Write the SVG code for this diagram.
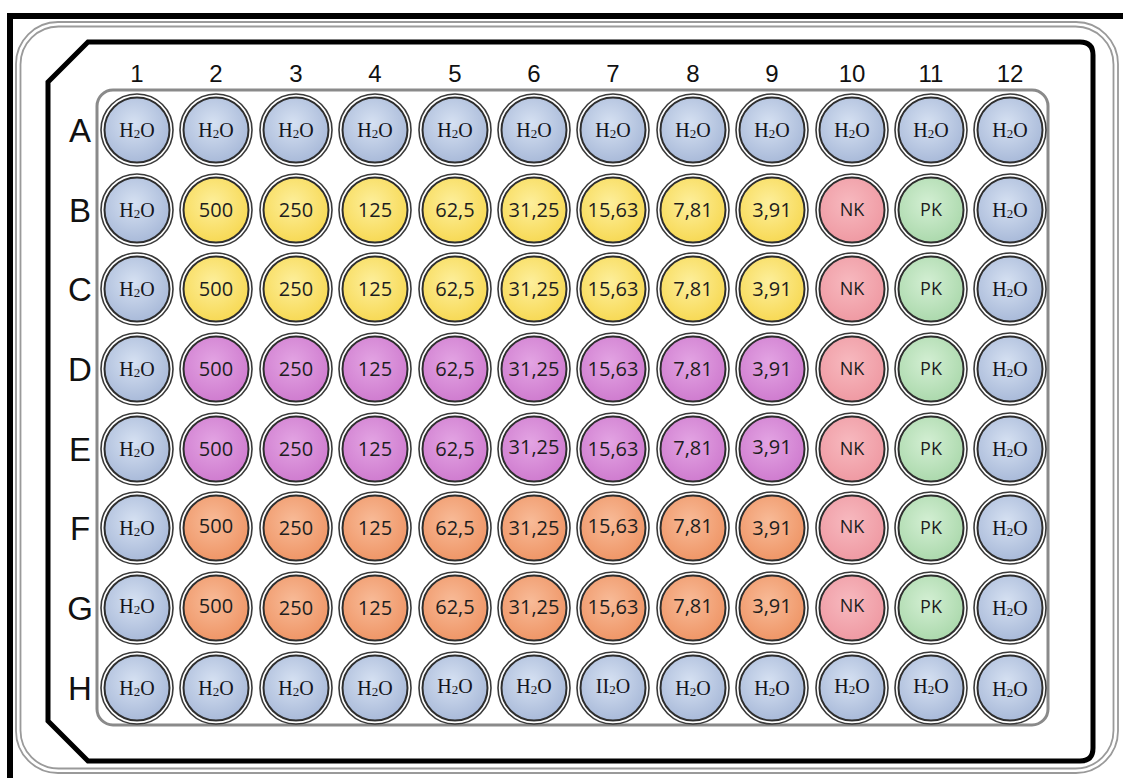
<svg xmlns="http://www.w3.org/2000/svg" width="1123" height="778" viewBox="0 0 1123 778">
<defs>
<radialGradient id="gW" cx="0.45" cy="0.4" r="0.6"><stop offset="0" stop-color="#d6e1f2"/><stop offset="1" stop-color="#a9bad9"/></radialGradient>
<radialGradient id="gY" cx="0.45" cy="0.4" r="0.6"><stop offset="0" stop-color="#fdef9c"/><stop offset="1" stop-color="#f7d955"/></radialGradient>
<radialGradient id="gM" cx="0.45" cy="0.4" r="0.6"><stop offset="0" stop-color="#e3a4e3"/><stop offset="1" stop-color="#cf7ccf"/></radialGradient>
<radialGradient id="gO" cx="0.45" cy="0.4" r="0.6"><stop offset="0" stop-color="#f8bb98"/><stop offset="1" stop-color="#ef9667"/></radialGradient>
<radialGradient id="gN" cx="0.45" cy="0.4" r="0.6"><stop offset="0" stop-color="#f7b9bf"/><stop offset="1" stop-color="#ef9aa3"/></radialGradient>
<radialGradient id="gP" cx="0.45" cy="0.4" r="0.6"><stop offset="0" stop-color="#d3efd3"/><stop offset="1" stop-color="#acd9ad"/></radialGradient>
<style>
.rim{fill:#fff;stroke:#3a3a3a;stroke-width:1.6}
.in{stroke:#2e2e2e;stroke-width:2}
.w{fill:url(#gW)}.y{fill:url(#gY)}.m{fill:url(#gM)}.o{fill:url(#gO)}.nk{fill:url(#gN)}.pk{fill:url(#gP)}
.h{font-family:"Liberation Serif",serif;font-size:20px;fill:#141420;text-anchor:middle}
.s{font-size:13px}
.n{font-family:"Open Sans",sans-serif;font-size:20px;fill:#1e1e1e;text-anchor:middle}
.k{font-family:"Open Sans",sans-serif;font-size:18px;fill:#1e1e1e;text-anchor:middle}
.col{font-family:"Liberation Sans",Arial,sans-serif;font-size:24px;fill:#111;text-anchor:middle}
.row{font-family:"Liberation Sans",Arial,sans-serif;font-size:33px;fill:#111;text-anchor:middle}
</style>
</defs>
<rect width="1123" height="778" fill="#fff"/>
<g id="plate">
<path d="M10,778 V16 H1123" fill="none" stroke="#000" stroke-width="6"/>
<rect x="16" y="22" width="1102" height="751" rx="42" fill="none" stroke="#9a9a9a" stroke-width="1.8"/>
<rect x="20.5" y="26.5" width="1093" height="742" rx="38" fill="none" stroke="#9a9a9a" stroke-width="1.8"/>
<path d="M48,82 L88,42 H1080 Q1093,42 1093,55 V748 Q1093,761 1080,761 H88 L48,721 Z" fill="none" stroke="#000" stroke-width="5"/>
<rect x="97" y="90" width="951" height="635" rx="16" fill="none" stroke="#8a8a8a" stroke-width="3"/>
</g>
<g id="labels">
<text class="col" x="137" y="82">1</text><text class="col" x="216" y="82">2</text><text class="col" x="296" y="82">3</text><text class="col" x="375" y="82">4</text><text class="col" x="455" y="82">5</text><text class="col" x="534" y="82">6</text><text class="col" x="613" y="82">7</text><text class="col" x="693" y="82">8</text><text class="col" x="772" y="82">9</text><text class="col" x="852" y="82">10</text><text class="col" x="931" y="82">11</text><text class="col" x="1010" y="82">12</text>
<text class="row" x="80" y="142">A</text><text class="row" x="80" y="222">B</text><text class="row" x="80" y="301">C</text><text class="row" x="80" y="381">D</text><text class="row" x="80" y="461">E</text><text class="row" x="80" y="540">F</text><text class="row" x="80" y="620">G</text><text class="row" x="80" y="700">H</text>
</g>
<g id="rowA">
<g id="A1"><circle class="rim" cx="137" cy="130" r="36"/><circle class="in w" cx="137" cy="130" r="32.5"/><text class="h" x="137" y="137">H<tspan class="s" dy="1">2</tspan><tspan dy="-1">O</tspan></text></g>
<g id="A2"><circle class="rim" cx="216" cy="130" r="36"/><circle class="in w" cx="216" cy="130" r="32.5"/><text class="h" x="216" y="137">H<tspan class="s" dy="1">2</tspan><tspan dy="-1">O</tspan></text></g>
<g id="A3"><circle class="rim" cx="296" cy="130" r="36"/><circle class="in w" cx="296" cy="130" r="32.5"/><text class="h" x="296" y="137">H<tspan class="s" dy="1">2</tspan><tspan dy="-1">O</tspan></text></g>
<g id="A4"><circle class="rim" cx="375" cy="130" r="36"/><circle class="in w" cx="375" cy="130" r="32.5"/><text class="h" x="375" y="137">H<tspan class="s" dy="1">2</tspan><tspan dy="-1">O</tspan></text></g>
<g id="A5"><circle class="rim" cx="455" cy="130" r="36"/><circle class="in w" cx="455" cy="130" r="32.5"/><text class="h" x="455" y="137">H<tspan class="s" dy="1">2</tspan><tspan dy="-1">O</tspan></text></g>
<g id="A6"><circle class="rim" cx="534" cy="130" r="36"/><circle class="in w" cx="534" cy="130" r="32.5"/><text class="h" x="534" y="137">H<tspan class="s" dy="1">2</tspan><tspan dy="-1">O</tspan></text></g>
<g id="A7"><circle class="rim" cx="613" cy="130" r="36"/><circle class="in w" cx="613" cy="130" r="32.5"/><text class="h" x="613" y="137">H<tspan class="s" dy="1">2</tspan><tspan dy="-1">O</tspan></text></g>
<g id="A8"><circle class="rim" cx="693" cy="130" r="36"/><circle class="in w" cx="693" cy="130" r="32.5"/><text class="h" x="693" y="137">H<tspan class="s" dy="1">2</tspan><tspan dy="-1">O</tspan></text></g>
<g id="A9"><circle class="rim" cx="772" cy="130" r="36"/><circle class="in w" cx="772" cy="130" r="32.5"/><text class="h" x="772" y="137">H<tspan class="s" dy="1">2</tspan><tspan dy="-1">O</tspan></text></g>
<g id="A10"><circle class="rim" cx="852" cy="130" r="36"/><circle class="in w" cx="852" cy="130" r="32.5"/><text class="h" x="852" y="137">H<tspan class="s" dy="1">2</tspan><tspan dy="-1">O</tspan></text></g>
<g id="A11"><circle class="rim" cx="931" cy="130" r="36"/><circle class="in w" cx="931" cy="130" r="32.5"/><text class="h" x="931" y="137">H<tspan class="s" dy="1">2</tspan><tspan dy="-1">O</tspan></text></g>
<g id="A12"><circle class="rim" cx="1010" cy="130" r="36"/><circle class="in w" cx="1010" cy="130" r="32.5"/><text class="h" x="1010" y="137">H<tspan class="s" dy="1">2</tspan><tspan dy="-1">O</tspan></text></g>
</g>
<g id="rowB">
<g id="B1"><circle class="rim" cx="137" cy="210" r="36"/><circle class="in w" cx="137" cy="210" r="32.5"/><text class="h" x="137" y="217">H<tspan class="s" dy="1">2</tspan><tspan dy="-1">O</tspan></text></g>
<g id="B2"><circle class="rim" cx="216" cy="210" r="36"/><circle class="in y" cx="216" cy="210" r="32.5"/><text class="n" x="216" y="217">500</text></g>
<g id="B3"><circle class="rim" cx="296" cy="210" r="36"/><circle class="in y" cx="296" cy="210" r="32.5"/><text class="n" x="296" y="217">250</text></g>
<g id="B4"><circle class="rim" cx="375" cy="210" r="36"/><circle class="in y" cx="375" cy="210" r="32.5"/><text class="n" x="375" y="217">125</text></g>
<g id="B5"><circle class="rim" cx="455" cy="210" r="36"/><circle class="in y" cx="455" cy="210" r="32.5"/><text class="n" x="455" y="217">62,5</text></g>
<g id="B6"><circle class="rim" cx="534" cy="210" r="36"/><circle class="in y" cx="534" cy="210" r="32.5"/><text class="n" x="534" y="217">31,25</text></g>
<g id="B7"><circle class="rim" cx="613" cy="210" r="36"/><circle class="in y" cx="613" cy="210" r="32.5"/><text class="n" x="613" y="217">15,63</text></g>
<g id="B8"><circle class="rim" cx="693" cy="210" r="36"/><circle class="in y" cx="693" cy="210" r="32.5"/><text class="n" x="693" y="217">7,81</text></g>
<g id="B9"><circle class="rim" cx="772" cy="210" r="36"/><circle class="in y" cx="772" cy="210" r="32.5"/><text class="n" x="772" y="217">3,91</text></g>
<g id="B10"><circle class="rim" cx="852" cy="210" r="36"/><circle class="in nk" cx="852" cy="210" r="32.5"/><text class="k" x="852" y="216">NK</text></g>
<g id="B11"><circle class="rim" cx="931" cy="210" r="36"/><circle class="in pk" cx="931" cy="210" r="32.5"/><text class="k" x="931" y="216">PK</text></g>
<g id="B12"><circle class="rim" cx="1010" cy="210" r="36"/><circle class="in w" cx="1010" cy="210" r="32.5"/><text class="h" x="1010" y="217">H<tspan class="s" dy="1">2</tspan><tspan dy="-1">O</tspan></text></g>
</g>
<g id="rowC">
<g id="C1"><circle class="rim" cx="137" cy="289" r="36"/><circle class="in w" cx="137" cy="289" r="32.5"/><text class="h" x="137" y="296">H<tspan class="s" dy="1">2</tspan><tspan dy="-1">O</tspan></text></g>
<g id="C2"><circle class="rim" cx="216" cy="289" r="36"/><circle class="in y" cx="216" cy="289" r="32.5"/><text class="n" x="216" y="296">500</text></g>
<g id="C3"><circle class="rim" cx="296" cy="289" r="36"/><circle class="in y" cx="296" cy="289" r="32.5"/><text class="n" x="296" y="296">250</text></g>
<g id="C4"><circle class="rim" cx="375" cy="289" r="36"/><circle class="in y" cx="375" cy="289" r="32.5"/><text class="n" x="375" y="296">125</text></g>
<g id="C5"><circle class="rim" cx="455" cy="289" r="36"/><circle class="in y" cx="455" cy="289" r="32.5"/><text class="n" x="455" y="296">62,5</text></g>
<g id="C6"><circle class="rim" cx="534" cy="289" r="36"/><circle class="in y" cx="534" cy="289" r="32.5"/><text class="n" x="534" y="296">31,25</text></g>
<g id="C7"><circle class="rim" cx="613" cy="289" r="36"/><circle class="in y" cx="613" cy="289" r="32.5"/><text class="n" x="613" y="296">15,63</text></g>
<g id="C8"><circle class="rim" cx="693" cy="289" r="36"/><circle class="in y" cx="693" cy="289" r="32.5"/><text class="n" x="693" y="296">7,81</text></g>
<g id="C9"><circle class="rim" cx="772" cy="289" r="36"/><circle class="in y" cx="772" cy="289" r="32.5"/><text class="n" x="772" y="296">3,91</text></g>
<g id="C10"><circle class="rim" cx="852" cy="289" r="36"/><circle class="in nk" cx="852" cy="289" r="32.5"/><text class="k" x="852" y="295">NK</text></g>
<g id="C11"><circle class="rim" cx="931" cy="289" r="36"/><circle class="in pk" cx="931" cy="289" r="32.5"/><text class="k" x="931" y="295">PK</text></g>
<g id="C12"><circle class="rim" cx="1010" cy="289" r="36"/><circle class="in w" cx="1010" cy="289" r="32.5"/><text class="h" x="1010" y="296">H<tspan class="s" dy="1">2</tspan><tspan dy="-1">O</tspan></text></g>
</g>
<g id="rowD">
<g id="D1"><circle class="rim" cx="137" cy="369" r="36"/><circle class="in w" cx="137" cy="369" r="32.5"/><text class="h" x="137" y="376">H<tspan class="s" dy="1">2</tspan><tspan dy="-1">O</tspan></text></g>
<g id="D2"><circle class="rim" cx="216" cy="369" r="36"/><circle class="in m" cx="216" cy="369" r="32.5"/><text class="n" x="216" y="376">500</text></g>
<g id="D3"><circle class="rim" cx="296" cy="369" r="36"/><circle class="in m" cx="296" cy="369" r="32.5"/><text class="n" x="296" y="376">250</text></g>
<g id="D4"><circle class="rim" cx="375" cy="369" r="36"/><circle class="in m" cx="375" cy="369" r="32.5"/><text class="n" x="375" y="376">125</text></g>
<g id="D5"><circle class="rim" cx="455" cy="369" r="36"/><circle class="in m" cx="455" cy="369" r="32.5"/><text class="n" x="455" y="376">62,5</text></g>
<g id="D6"><circle class="rim" cx="534" cy="369" r="36"/><circle class="in m" cx="534" cy="369" r="32.5"/><text class="n" x="534" y="376">31,25</text></g>
<g id="D7"><circle class="rim" cx="613" cy="369" r="36"/><circle class="in m" cx="613" cy="369" r="32.5"/><text class="n" x="613" y="376">15,63</text></g>
<g id="D8"><circle class="rim" cx="693" cy="369" r="36"/><circle class="in m" cx="693" cy="369" r="32.5"/><text class="n" x="693" y="376">7,81</text></g>
<g id="D9"><circle class="rim" cx="772" cy="369" r="36"/><circle class="in m" cx="772" cy="369" r="32.5"/><text class="n" x="772" y="376">3,91</text></g>
<g id="D10"><circle class="rim" cx="852" cy="369" r="36"/><circle class="in nk" cx="852" cy="369" r="32.5"/><text class="k" x="852" y="375">NK</text></g>
<g id="D11"><circle class="rim" cx="931" cy="369" r="36"/><circle class="in pk" cx="931" cy="369" r="32.5"/><text class="k" x="931" y="375">PK</text></g>
<g id="D12"><circle class="rim" cx="1010" cy="369" r="36"/><circle class="in w" cx="1010" cy="369" r="32.5"/><text class="h" x="1010" y="376">H<tspan class="s" dy="1">2</tspan><tspan dy="-1">O</tspan></text></g>
</g>
<g id="rowE">
<g id="E1"><circle class="rim" cx="137" cy="449" r="36"/><circle class="in w" cx="137" cy="449" r="32.5"/><text class="h" x="137" y="456">H<tspan class="s" dy="1">2</tspan><tspan dy="-1">O</tspan></text></g>
<g id="E2"><circle class="rim" cx="216" cy="449" r="36"/><circle class="in m" cx="216" cy="449" r="32.5"/><text class="n" x="216" y="456">500</text></g>
<g id="E3"><circle class="rim" cx="296" cy="449" r="36"/><circle class="in m" cx="296" cy="449" r="32.5"/><text class="n" x="296" y="456">250</text></g>
<g id="E4"><circle class="rim" cx="375" cy="449" r="36"/><circle class="in m" cx="375" cy="449" r="32.5"/><text class="n" x="375" y="456">125</text></g>
<g id="E5"><circle class="rim" cx="455" cy="449" r="36"/><circle class="in m" cx="455" cy="449" r="32.5"/><text class="n" x="455" y="456">62,5</text></g>
<g id="E6"><circle class="rim" cx="534" cy="449" r="36"/><circle class="in m" cx="534" cy="449" r="32.5"/><text class="n" x="534" y="454">31,25</text></g>
<g id="E7"><circle class="rim" cx="613" cy="449" r="36"/><circle class="in m" cx="613" cy="449" r="32.5"/><text class="n" x="613" y="456">15,63</text></g>
<g id="E8"><circle class="rim" cx="693" cy="449" r="36"/><circle class="in m" cx="693" cy="449" r="32.5"/><text class="n" x="693" y="455">7,81</text></g>
<g id="E9"><circle class="rim" cx="772" cy="449" r="36"/><circle class="in m" cx="772" cy="449" r="32.5"/><text class="n" x="772" y="454">3,91</text></g>
<g id="E10"><circle class="rim" cx="852" cy="449" r="36"/><circle class="in nk" cx="852" cy="449" r="32.5"/><text class="k" x="852" y="455">NK</text></g>
<g id="E11"><circle class="rim" cx="931" cy="449" r="36"/><circle class="in pk" cx="931" cy="449" r="32.5"/><text class="k" x="931" y="455">PK</text></g>
<g id="E12"><circle class="rim" cx="1010" cy="449" r="36"/><circle class="in w" cx="1010" cy="449" r="32.5"/><text class="h" x="1010" y="456">H<tspan class="s" dy="1">2</tspan><tspan dy="-1">O</tspan></text></g>
</g>
<g id="rowF">
<g id="F1"><circle class="rim" cx="137" cy="528" r="36"/><circle class="in w" cx="137" cy="528" r="32.5"/><text class="h" x="137" y="535">H<tspan class="s" dy="1">2</tspan><tspan dy="-1">O</tspan></text></g>
<g id="F2"><circle class="rim" cx="216" cy="528" r="36"/><circle class="in o" cx="216" cy="528" r="32.5"/><text class="n" x="216" y="533">500</text></g>
<g id="F3"><circle class="rim" cx="296" cy="528" r="36"/><circle class="in o" cx="296" cy="528" r="32.5"/><text class="n" x="296" y="535">250</text></g>
<g id="F4"><circle class="rim" cx="375" cy="528" r="36"/><circle class="in o" cx="375" cy="528" r="32.5"/><text class="n" x="375" y="535">125</text></g>
<g id="F5"><circle class="rim" cx="455" cy="528" r="36"/><circle class="in o" cx="455" cy="528" r="32.5"/><text class="n" x="455" y="535">62,5</text></g>
<g id="F6"><circle class="rim" cx="534" cy="528" r="36"/><circle class="in o" cx="534" cy="528" r="32.5"/><text class="n" x="534" y="535">31,25</text></g>
<g id="F7"><circle class="rim" cx="613" cy="528" r="36"/><circle class="in o" cx="613" cy="528" r="32.5"/><text class="n" x="613" y="533">15,63</text></g>
<g id="F8"><circle class="rim" cx="693" cy="528" r="36"/><circle class="in o" cx="693" cy="528" r="32.5"/><text class="n" x="693" y="533">7,81</text></g>
<g id="F9"><circle class="rim" cx="772" cy="528" r="36"/><circle class="in o" cx="772" cy="528" r="32.5"/><text class="n" x="772" y="535">3,91</text></g>
<g id="F10"><circle class="rim" cx="852" cy="528" r="36"/><circle class="in nk" cx="852" cy="528" r="32.5"/><text class="k" x="852" y="533">NK</text></g>
<g id="F11"><circle class="rim" cx="931" cy="528" r="36"/><circle class="in pk" cx="931" cy="528" r="32.5"/><text class="k" x="931" y="534">PK</text></g>
<g id="F12"><circle class="rim" cx="1010" cy="528" r="36"/><circle class="in w" cx="1010" cy="528" r="32.5"/><text class="h" x="1010" y="535">H<tspan class="s" dy="1">2</tspan><tspan dy="-1">O</tspan></text></g>
</g>
<g id="rowG">
<g id="G1"><circle class="rim" cx="137" cy="608" r="36"/><circle class="in w" cx="137" cy="608" r="32.5"/><text class="h" x="137" y="613">H<tspan class="s" dy="1">2</tspan><tspan dy="-1">O</tspan></text></g>
<g id="G2"><circle class="rim" cx="216" cy="608" r="36"/><circle class="in o" cx="216" cy="608" r="32.5"/><text class="n" x="216" y="613">500</text></g>
<g id="G3"><circle class="rim" cx="296" cy="608" r="36"/><circle class="in o" cx="296" cy="608" r="32.5"/><text class="n" x="296" y="615">250</text></g>
<g id="G4"><circle class="rim" cx="375" cy="608" r="36"/><circle class="in o" cx="375" cy="608" r="32.5"/><text class="n" x="375" y="615">125</text></g>
<g id="G5"><circle class="rim" cx="455" cy="608" r="36"/><circle class="in o" cx="455" cy="608" r="32.5"/><text class="n" x="455" y="614">62,5</text></g>
<g id="G6"><circle class="rim" cx="534" cy="608" r="36"/><circle class="in o" cx="534" cy="608" r="32.5"/><text class="n" x="534" y="614">31,25</text></g>
<g id="G7"><circle class="rim" cx="613" cy="608" r="36"/><circle class="in o" cx="613" cy="608" r="32.5"/><text class="n" x="613" y="614">15,63</text></g>
<g id="G8"><circle class="rim" cx="693" cy="608" r="36"/><circle class="in o" cx="693" cy="608" r="32.5"/><text class="n" x="693" y="613">7,81</text></g>
<g id="G9"><circle class="rim" cx="772" cy="608" r="36"/><circle class="in o" cx="772" cy="608" r="32.5"/><text class="n" x="772" y="613">3,91</text></g>
<g id="G10"><circle class="rim" cx="852" cy="608" r="36"/><circle class="in nk" cx="852" cy="608" r="32.5"/><text class="k" x="852" y="612">NK</text></g>
<g id="G11"><circle class="rim" cx="931" cy="608" r="36"/><circle class="in pk" cx="931" cy="608" r="32.5"/><text class="k" x="931" y="613">PK</text></g>
<g id="G12"><circle class="rim" cx="1010" cy="608" r="36"/><circle class="in w" cx="1010" cy="608" r="32.5"/><text class="h" x="1010" y="615">H<tspan class="s" dy="1">2</tspan><tspan dy="-1">O</tspan></text></g>
</g>
<g id="rowH">
<g id="H1"><circle class="rim" cx="137" cy="688" r="36"/><circle class="in w" cx="137" cy="688" r="32.5"/><text class="h" x="137" y="695">H<tspan class="s" dy="1">2</tspan><tspan dy="-1">O</tspan></text></g>
<g id="H2"><circle class="rim" cx="216" cy="688" r="36"/><circle class="in w" cx="216" cy="688" r="32.5"/><text class="h" x="216" y="695">H<tspan class="s" dy="1">2</tspan><tspan dy="-1">O</tspan></text></g>
<g id="H3"><circle class="rim" cx="296" cy="688" r="36"/><circle class="in w" cx="296" cy="688" r="32.5"/><text class="h" x="296" y="695">H<tspan class="s" dy="1">2</tspan><tspan dy="-1">O</tspan></text></g>
<g id="H4"><circle class="rim" cx="375" cy="688" r="36"/><circle class="in w" cx="375" cy="688" r="32.5"/><text class="h" x="375" y="695">H<tspan class="s" dy="1">2</tspan><tspan dy="-1">O</tspan></text></g>
<g id="H5"><circle class="rim" cx="455" cy="688" r="36"/><circle class="in w" cx="455" cy="688" r="32.5"/><text class="h" x="455" y="693">H<tspan class="s" dy="1">2</tspan><tspan dy="-1">O</tspan></text></g>
<g id="H6"><circle class="rim" cx="534" cy="688" r="36"/><circle class="in w" cx="534" cy="688" r="32.5"/><text class="h" x="534" y="693">H<tspan class="s" dy="1">2</tspan><tspan dy="-1">O</tspan></text></g>
<g id="H7"><circle class="rim" cx="613" cy="688" r="36"/><circle class="in w" cx="613" cy="688" r="32.5"/><text class="h" x="613" y="693">II<tspan class="s" dy="1">2</tspan><tspan dy="-1">O</tspan></text></g>
<g id="H8"><circle class="rim" cx="693" cy="688" r="36"/><circle class="in w" cx="693" cy="688" r="32.5"/><text class="h" x="693" y="695">H<tspan class="s" dy="1">2</tspan><tspan dy="-1">O</tspan></text></g>
<g id="H9"><circle class="rim" cx="772" cy="688" r="36"/><circle class="in w" cx="772" cy="688" r="32.5"/><text class="h" x="772" y="695">H<tspan class="s" dy="1">2</tspan><tspan dy="-1">O</tspan></text></g>
<g id="H10"><circle class="rim" cx="852" cy="688" r="36"/><circle class="in w" cx="852" cy="688" r="32.5"/><text class="h" x="852" y="693">H<tspan class="s" dy="1">2</tspan><tspan dy="-1">O</tspan></text></g>
<g id="H11"><circle class="rim" cx="931" cy="688" r="36"/><circle class="in w" cx="931" cy="688" r="32.5"/><text class="h" x="931" y="693">H<tspan class="s" dy="1">2</tspan><tspan dy="-1">O</tspan></text></g>
<g id="H12"><circle class="rim" cx="1010" cy="688" r="36"/><circle class="in w" cx="1010" cy="688" r="32.5"/><text class="h" x="1010" y="696">H<tspan class="s" dy="1">2</tspan><tspan dy="-1">O</tspan></text></g>
</g>
</svg>
